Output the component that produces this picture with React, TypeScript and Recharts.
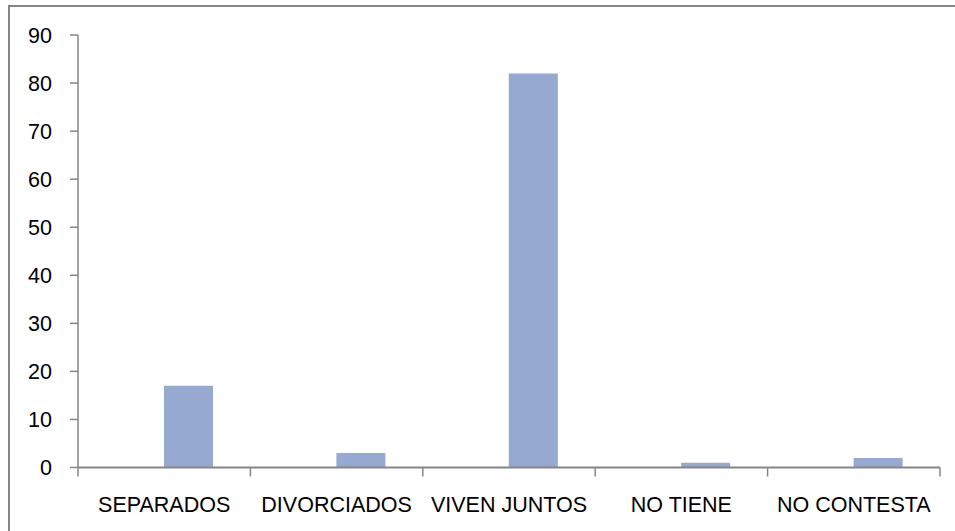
import { BarChart, Bar, XAxis, YAxis } from 'recharts';

const categorias = ['SEPARADOS', 'DIVORCIADOS', 'VIVEN JUNTOS', 'NO TIENE', 'NO CONTESTA'];
const valores = [17, 3, 82, 1, 2];
const ticksY = [0, 10, 20, 30, 40, 50, 60, 70, 80, 90];
const limitesX = [0, 1, 2, 3, 4, 5];

// the Excel source had an empty first series, so the bars sit right of centre
const data = categorias.map((c, i) => ({ categoria: c, valor: valores[i], pos: i + 0.5 }));

const AXIS = '#868686';
const FONT = '"Liberation Sans", Arial, sans-serif';

export default function App() {
  return (
    <div style={{ position: 'relative', width: 955, height: 531, overflow: 'hidden', background: '#fff' }}>
      <style>{`body{margin:0}`}</style>
      <div
        style={{
          position: 'absolute',
          left: 8,
          top: 5,
          width: 1000,
          height: 600,
          borderLeft: `2px solid ${AXIS}`,
          borderTop: `2px solid ${AXIS}`,
        }}
      />
      <div style={{ position: 'absolute', left: 0, top: 0 }}>
        <BarChart
          width={955}
          height={531}
          data={data}
          margin={{ top: 35, right: 15, left: 0, bottom: 0 }}
          barGap={0}
          barCategoryGap={37}
        >
          {/* boundary ticks between categories, like Excel */}
          <XAxis
            xAxisId="base"
            dataKey="pos"
            type="number"
            domain={[0, 5]}
            ticks={limitesX}
            interval={0}
            allowDataOverflow
            height={1}
            tickSize={9}
            tickFormatter={() => ''}
            axisLine={{ stroke: AXIS, strokeWidth: 2 }}
            tickLine={{ stroke: AXIS, strokeWidth: 1.5 }}
          />
          <XAxis
            xAxisId="cat"
            dataKey="categoria"
            height={62.5}
            axisLine={false}
            tickLine={false}
            tickSize={0}
            tickMargin={28}
            interval={0}
            tick={{ fontSize: 21.5, fill: '#000', fontFamily: FONT }}
          />
          <YAxis
            width={78}
            domain={[0, 90]}
            ticks={ticksY}
            interval={0}
            tickSize={8}
            tickMargin={18}
            axisLine={{ stroke: AXIS, strokeWidth: 1.5 }}
            tickLine={{ stroke: AXIS, strokeWidth: 1.5 }}
            tick={{ fontSize: 21.5, fill: '#000', fontFamily: FONT }}
          />
          <Bar xAxisId="cat" dataKey="vacio" fill="#4f81bd" isAnimationActive={false} />
          <Bar xAxisId="cat" dataKey="valor" fill="#95A9D1" isAnimationActive={false} />
        </BarChart>
      </div>
    </div>
  );
}
